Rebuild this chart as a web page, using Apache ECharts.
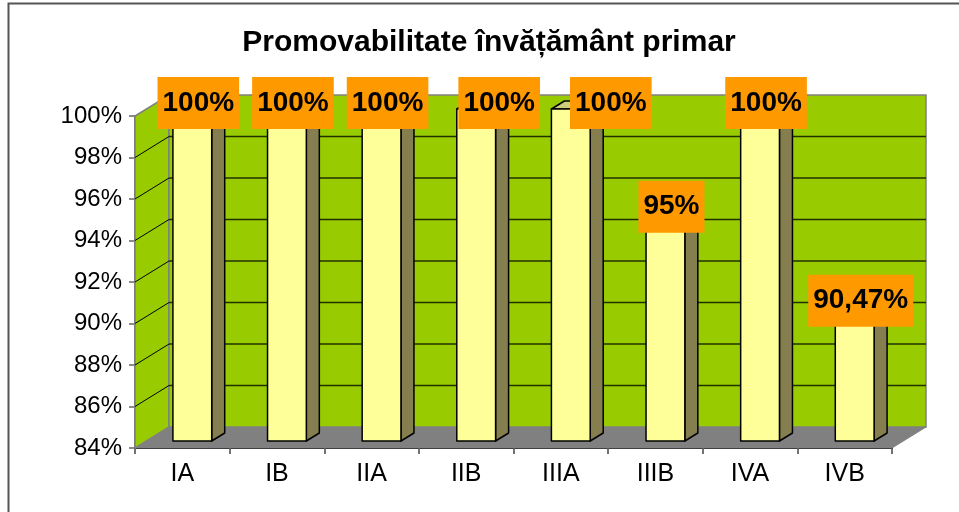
<!DOCTYPE html>
<html>
<head>
<meta charset="utf-8">
<title>Promovabilitate învățământ primar</title>
<script src="https://cdn.jsdelivr.net/npm/echarts@6/dist/echarts.min.js"></script>
<style>
    html, body { margin: 0; padding: 0; background: #ffffff; }
    #chart { width: 959px; height: 512px; }
</style>
</head>
<body>
<div id="chart"></div>
<script>
const titleText = "Promovabilitate învățământ primar";
const categories = ["IA", "IB", "IIA", "IIB", "IIIA", "IIIB", "IVA", "IVB"];
const promovabilitate = [100, 100, 100, 100, 100, 95, 100, 90.47];
const yMin = 84;
const yMax = 100;
const yStep = 2;

// Extra horizontal nudge of some labels (moved by hand in the original)
const labelNudge = [0, 0, 0, 17, 34, 0, 0, 0];

// Fake 3D: depth of the walls, position and depth of the bars (pixels)
const WALL_DEPTH = [34, -21];
const BAR_SHIFT = [10, -7];
const BAR_DEPTH = [13, -8];

const FONT = "Liberation Sans, Arial, sans-serif";

function renderWalls(params, api)
{
    const cs = params.coordSys;
    const x0 = cs.x;
    const x1 = cs.x + cs.width;
    const yTop = api.coord([0, yMax])[1];
    const yBot = api.coord([0, yMin])[1];
    const [dx, dy] = WALL_DEPTH;

    const children = [
        // floor
        {
            type: "polygon",
            shape: { points: [[x0, yBot], [x0 + dx, yBot + dy], [x1 + dx, yBot + dy], [x1, yBot]] },
            style: { fill: "#808080", stroke: "#808080", lineWidth: 1 }
        },
        // left wall
        {
            type: "polygon",
            shape: { points: [[x0, yBot], [x0, yTop], [x0 + dx, yTop + dy], [x0 + dx, yBot + dy]] },
            style: { fill: "#99CC00", stroke: "#808080", lineWidth: 1.5 }
        },
        // back wall
        {
            type: "rect",
            shape: { x: x0 + dx, y: yTop + dy, width: x1 - x0, height: yBot - yTop },
            style: { fill: "#99CC00", stroke: "#808080", lineWidth: 1.5 }
        }
    ];

    // grid lines on both walls
    for (let v = yMin + yStep; v < yMax; v += yStep)
    {
        const y = api.coord([0, v])[1];
        children.push({
            type: "line",
            shape: { x1: x0, y1: y, x2: x0 + dx, y2: y + dy },
            style: { stroke: "#000000", lineWidth: 1 }
        });
        children.push({
            type: "line",
            shape: { x1: x0 + dx, y1: y + dy, x2: x1 + dx, y2: y + dy },
            style: { stroke: "#223000", lineWidth: 1.5 }
        });
    }

    return { type: "group", children };
}

function renderBar(params, api)
{
    const i = api.value(0);
    const top = api.coord([i, api.value(1)]);
    const base = api.coord([i, yMin]);
    const w = api.size([1, 0])[0] * 0.41;
    const left = top[0] + BAR_SHIFT[0] - w / 2;
    const right = left + w;
    const yT = top[1] + BAR_SHIFT[1];
    const yB = base[1] + BAR_SHIFT[1];
    const [dx, dy] = BAR_DEPTH;
    const edge = { stroke: "#000000", lineWidth: 1.5, lineJoin: "round" };

    return {
        type: "group",
        children: [
            {
                type: "polygon",
                shape: { points: [[right, yT], [right + dx, yT + dy], [right + dx, yB + dy], [right, yB]] },
                style: Object.assign({ fill: "#857F4F" }, edge)
            },
            {
                type: "polygon",
                shape: { points: [[left, yT], [left + dx, yT + dy], [right + dx, yT + dy], [right, yT]] },
                style: Object.assign({ fill: "#CCCC7A" }, edge)
            },
            {
                type: "rect",
                shape: { x: left, y: yT, width: w, height: yB - yT },
                style: Object.assign({ fill: "#FFFF99" }, edge)
            }
        ]
    };
}

const chart = echarts.init(document.getElementById("chart"));

chart.setOption({
    animation: false,
    backgroundColor: "#ffffff",
    title: {
        text: titleText,
        left: 489,
        top: 28,
        padding: 0,
        textAlign: "center",
        textStyle: { fontFamily: FONT, fontSize: 30, fontWeight: "bold", color: "#000000" }
    },
    graphic: [
        {
            type: "rect",
            shape: { x: 8.5, y: 3.5, width: 1000, height: 600 },
            style: { fill: null, stroke: "#555555", lineWidth: 2 },
            silent: true
        }
    ],
    grid: { left: 135, right: 67, top: 116, bottom: 64 },
    xAxis: {
        type: "category",
        data: categories,
        axisLine: { lineStyle: { color: "#000000", width: 2 } },
        axisTick: { show: true, interval: 0, length: 6, lineStyle: { color: "#444444", width: 1.5 } },
        axisLabel: { fontFamily: FONT, fontSize: 25, color: "#000000", margin: 14 }
    },
    yAxis: {
        type: "value",
        min: yMin,
        max: yMax,
        interval: yStep,
        axisLine: { show: true, lineStyle: { color: "#404040", width: 1.5 } },
        axisTick: { show: true, length: 6, lineStyle: { color: "#666666", width: 1.5 } },
        axisLabel: { fontFamily: FONT, fontSize: 24, color: "#000000", margin: 13, formatter: "{value}%" },
        splitLine: { show: false }
    },
    series: [
        {
            type: "custom",
            z: 1,
            silent: true,
            renderItem: renderWalls,
            data: [[0, yMin]]
        },
        {
            type: "custom",
            z: 3,
            renderItem: renderBar,
            encode: { x: 0, y: 1 },
            data: promovabilitate.map((v, i) => [i, v])
        },
        {
            type: "scatter",
            z: 5,
            symbolSize: 0,
            itemStyle: { opacity: 1 },
            emphasis: { disabled: true },
            data: promovabilitate.map((v, i) => ({
                value: [i, v],
                label: { offset: [16 + labelNudge[i], -13] }
            })),
            label: {
                show: true,
                position: "inside",
                formatter: (p) => String(p.value[1]).replace(".", ",") + "%",
                fontFamily: FONT,
                fontSize: 28,
                fontWeight: "bold",
                lineHeight: 28,
                color: "#000000",
                opacity: 1,
                backgroundColor: "#FF9900",
                padding: [12, 5]
            }
        }
    ]
});
</script>
</body>
</html>
